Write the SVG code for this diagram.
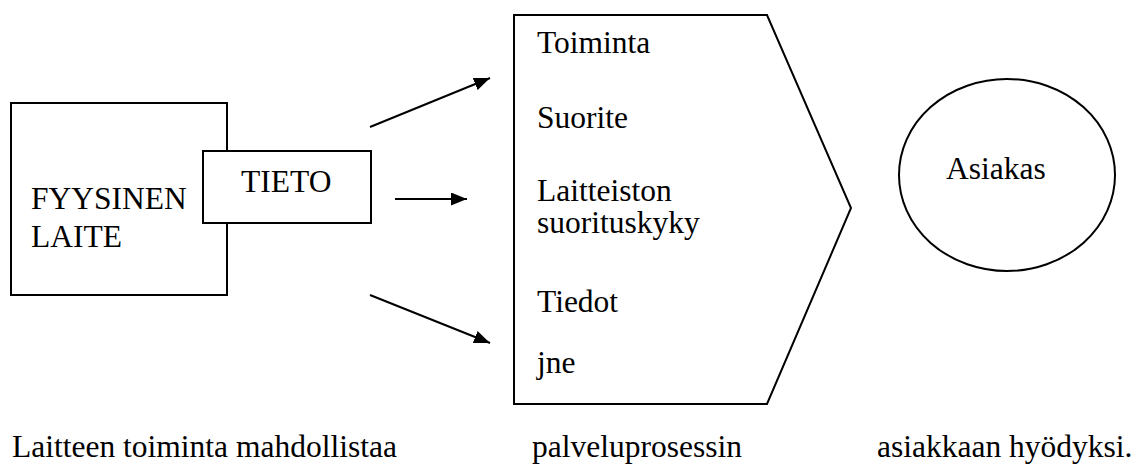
<svg xmlns="http://www.w3.org/2000/svg" width="1138" height="466" viewBox="0 0 1138 466">
  <style>
    .shape { fill: #ffffff; stroke: #000000; stroke-width: 2; }
    .label { font-family: 'Liberation Serif', 'Times New Roman', serif; font-size: 31.5px; fill: #000000; }
    .conn { stroke: #000000; stroke-width: 2; fill: none; }
  </style>
  <defs>
    <marker id="arrowhead" viewBox="0 0 16 13" refX="16" refY="6.5" markerWidth="16" markerHeight="13" markerUnits="userSpaceOnUse" orient="auto">
      <path d="M0,0 L16,6.5 L0,13 z" fill="#000000"/>
    </marker>
  </defs>
  <rect x="0" y="0" width="1138" height="466" fill="#ffffff"/>

  <!-- physical device box -->
  <g id="fyysinen-laite">
    <rect class="shape" x="11" y="103" width="216" height="192"/>
    <text class="label" x="31" y="209">FYYSINEN</text>
    <text class="label" x="31" y="247">LAITE</text>
  </g>

  <!-- information box overlapping the device -->
  <g id="tieto">
    <rect class="shape" x="203" y="151" width="168" height="72"/>
    <text class="label" x="241" y="192">TIETO</text>
  </g>

  <!-- connectors into the service process -->
  <g id="connectors">
    <line class="conn" x1="370" y1="127" x2="490" y2="78" marker-end="url(#arrowhead)"/>
    <line class="conn" x1="395" y1="199" x2="467" y2="199" marker-end="url(#arrowhead)"/>
    <line class="conn" x1="370" y1="295" x2="490" y2="343" marker-end="url(#arrowhead)"/>
  </g>

  <!-- service process (pentagon arrow) -->
  <g id="palveluprosessi">
    <polygon class="shape" points="514,15 767,15 851,208 767,404 514,404"/>
    <text class="label" x="537" y="53">Toiminta</text>
    <text class="label" x="537" y="128">Suorite</text>
    <text class="label" x="537" y="201">Laitteiston</text>
    <text class="label" x="537" y="233">suorituskyky</text>
    <text class="label" x="537" y="312">Tiedot</text>
    <text class="label" x="537" y="373">jne</text>
  </g>

  <!-- customer -->
  <g id="asiakas">
    <ellipse class="shape" cx="1007" cy="175" rx="108" ry="96"/>
    <text class="label" x="946" y="179">Asiakas</text>
  </g>

  <!-- caption row -->
  <g id="caption">
    <text class="label" x="12" y="457">Laitteen toiminta mahdollistaa</text>
    <text class="label" x="532" y="457">palveluprosessin</text>
    <text class="label" x="877" y="457">asiakkaan hyödyksi.</text>
  </g>
</svg>
